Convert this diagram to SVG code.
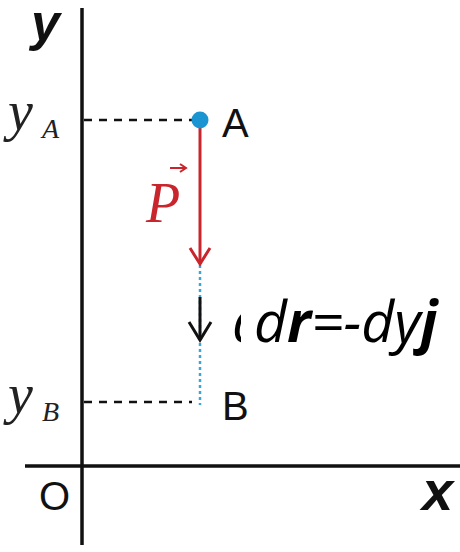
<svg xmlns="http://www.w3.org/2000/svg" width="460" height="552" viewBox="0 0 460 552">
<style>
.ax{stroke:#111;stroke-width:3.5;fill:none}
.dash{stroke:#111;stroke-width:2.5;stroke-dasharray:8 7;fill:none}
.sans{font-family:"Liberation Sans",Arial,sans-serif;fill:#111}
.ser{font-family:"Liberation Serif","Times New Roman",serif;font-style:italic;fill:#222}
.eq{font-family:"Open Sans","Noto Sans",sans-serif;font-style:italic;fill:#000}
</style>
<defs>
<clipPath id="cut"><rect x="200" y="280" width="41" height="80"/></clipPath>
</defs>
<rect width="460" height="552" fill="#fff"/>
<g id="axes">
<line class="ax" x1="82" y1="8" x2="82" y2="545"/>
<line class="ax" x1="25" y1="466" x2="460" y2="466"/>
<text class="sans" x="31" y="40" font-size="52" font-weight="bold" font-style="italic">y</text>
<text class="sans" x="422" y="510" font-size="56" font-weight="bold" font-style="italic">x</text>
<text class="sans" x="39" y="510" font-size="40">O</text>
</g>
<g id="connectors">
<line class="dash" x1="84" y1="120" x2="192" y2="120"/>
<line class="dash" x1="84" y1="402" x2="192" y2="402"/>
<line x1="200" y1="265" x2="200" y2="405" stroke="#3aa6d6" stroke-width="2.5" stroke-dasharray="3 3"/>
<line x1="200" y1="125" x2="200" y2="264" stroke="#c8262c" stroke-width="3"/>
<polyline points="190,248 200,264 210,248" fill="none" stroke="#c8262c" stroke-width="3"/>
<line x1="200" y1="297" x2="200" y2="340" stroke="#111" stroke-width="3"/>
<polyline points="189,322 200,340 211,322" fill="none" stroke="#111" stroke-width="3"/>
</g>
<g id="A">
<circle cx="200" cy="120" r="8.5" fill="#1b95d1"/>
<text class="sans" x="222" y="137" font-size="40">A</text>
<text class="ser" x="8" y="130" font-size="56">y</text>
<text class="ser" x="42" y="138" font-size="28">A</text>
</g>
<g id="B">
<text class="sans" x="222" y="420" font-size="40">B</text>
<text class="ser" x="8" y="413" font-size="56">y</text>
<text class="ser" x="42" y="421" font-size="28">B</text>
</g>
<g id="P">
<text x="146" y="222" font-family="Liberation Serif,serif" font-style="italic" font-size="56" fill="#c8262c">P</text>
<line x1="170" y1="168" x2="185" y2="168" stroke="#c8262c" stroke-width="2"/>
<polyline points="180,164 186,168 180,172" fill="none" stroke="#c8262c" stroke-width="2"/>
</g>
<g id="equation">
<text class="eq" x="232" y="342" font-size="58" clip-path="url(#cut)">d</text>
<text class="eq" x="254" y="342" font-size="57">d<tspan font-weight="bold">r</tspan>=-dy<tspan font-weight="bold">j</tspan></text>
</g>
</svg>
